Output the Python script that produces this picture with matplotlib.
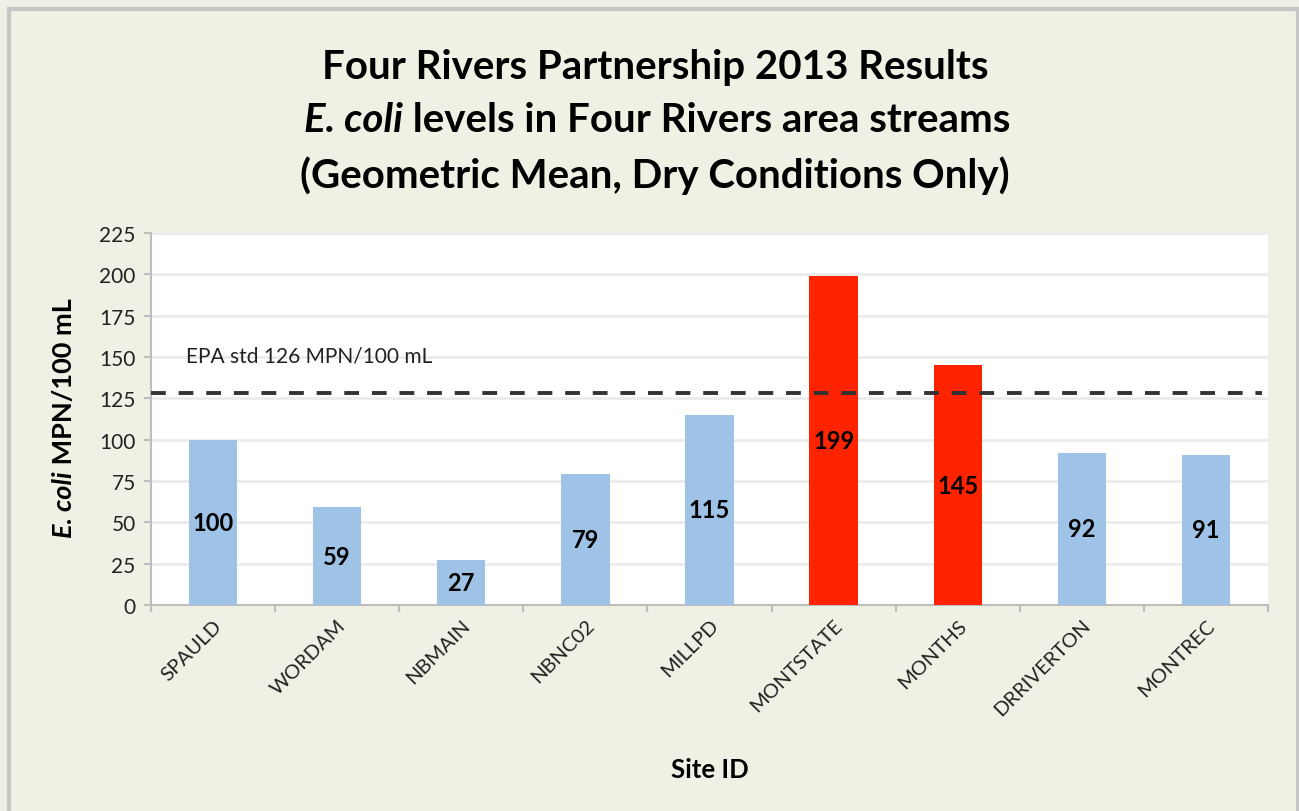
import matplotlib
matplotlib.use("Agg")
import matplotlib.pyplot as plt
from matplotlib.patches import Rectangle

plt.rcParams['font.family'] = ['Lato', 'DejaVu Sans']

# data
sites = ["SPAULD", "WORDAM", "NBMAIN", "NBNC02", "MILLPD",
         "MONTSTATE", "MONTHS", "DRRIVERTON", "MONTREC"]
geo_means = [100, 59, 27, 79, 115, 199, 145, 92, 91]
epa_std = 128
y_ticks = [0, 25, 50, 75, 100, 125, 150, 175, 200, 225]

blue = "#9fc3e7"
red = "#ff2300"
colors = [red if v > epa_std else blue for v in geo_means]

W, H = 1299, 812
fig = plt.figure(figsize=(W / 100, H / 100), dpi=100)
fig.patch.set_facecolor("#eef1e3")

# outer frame like the spreadsheet chart border
fig.add_artist(Rectangle((9 / W, -0.01), (W - 10) / W, 1 - 10 / H + 0.01,
                         transform=fig.transFigure, fill=False,
                         edgecolor="#c6c6c6", linewidth=3))

ax = fig.add_axes([151 / W, 1 - 606 / H, (1268 - 151) / W, (606 - 234) / H])
ax.set_facecolor("white")

x = list(range(len(sites)))
bars = ax.bar(x, geo_means, width=0.39, color=colors, zorder=3)

for xi, v in zip(x, geo_means):
    ax.text(xi, v / 2, str(v), ha="center", va="center",
            fontsize=17, fontweight="bold", color="black", zorder=4)

ax.axhline(epa_std, color="#333333", linestyle=(0, (3.8, 3.3)), linewidth=2.8,
           xmax=0.995, zorder=5)
ax.text(0.031, 151, "EPA std 126 MPN/100 mL", transform=ax.get_yaxis_transform(),
        ha="left", va="center", fontsize=15, color="#222222")

ax.set_xlim(-0.5, len(sites) - 0.5)
ax.set_ylim(0, 225)
ax.set_yticks(y_ticks)
ax.grid(axis="y", color="#ebebeb", linewidth=2, zorder=0)
ax.set_axisbelow(True)

for s in ["top", "right"]:
    ax.spines[s].set_visible(False)
for s in ["left", "bottom"]:
    ax.spines[s].set_color("#bdbdbd")
    ax.spines[s].set_linewidth(1.5)

# ticks sit on category boundaries
ax.set_xticks([i - 0.5 for i in range(len(sites) + 1)], minor=False)
ax.set_xticklabels([])
ax.set_xticks(x, minor=True)
ax.set_xticklabels(sites, minor=True, rotation=45, ha="right",
                   rotation_mode="anchor", fontsize=14.5, color="#222222")
ax.tick_params(axis="x", which="minor", length=0, pad=8)
ax.tick_params(axis="x", which="major", length=5, color="#bdbdbd", width=1.5)
ax.tick_params(axis="y", length=5, color="#bdbdbd", width=1.5,
               labelsize=15, labelcolor="#222222", pad=6)

fig.text((151 + 1268) / 2 / W, 1 - 770 / H, "Site ID", ha="center", va="center",
         fontsize=18.5, fontweight="bold")

fig.canvas.draw()
renderer = fig.canvas.get_renderer()


def mixed_line(parts, xc, yc, size, rotation=0):
    # place text pieces with different styles next to each other, centred
    texts = []
    for s, style in parts:
        t = fig.text(0, 0, s, fontsize=size, fontweight="bold", fontstyle=style,
                     rotation=rotation, ha="left", va="center",
                     rotation_mode="anchor")
        texts.append(t)
    lengths = []
    for t in texts:
        bb = t.get_window_extent(renderer)
        lengths.append(bb.height if rotation == 90 else bb.width)
    total = sum(lengths)
    if rotation == 90:
        # stack from bottom upwards
        start = H - yc - total / 2
        for t, L in zip(texts, lengths):
            t.set_position((xc / W, start / H))
            start += L
    else:
        start = xc - total / 2
        for t, L in zip(texts, lengths):
            t.set_position((start / W, 1 - yc / H))
            start += L


mixed_line([("Four Rivers Partnership 2013 Results", "normal")], 655, 68, 29)
mixed_line([("E. coli", "italic"), (" levels in Four Rivers area streams", "normal")],
           657, 121, 29)
mixed_line([("(Geometric Mean, Dry Conditions Only)", "normal")], 655, 176, 29)
mixed_line([("E. coli", "italic"), (" MPN/100 mL", "normal")], 64, 418, 19.5,
           rotation=90)

fig.savefig("out.png", dpi=100, facecolor=fig.get_facecolor())
